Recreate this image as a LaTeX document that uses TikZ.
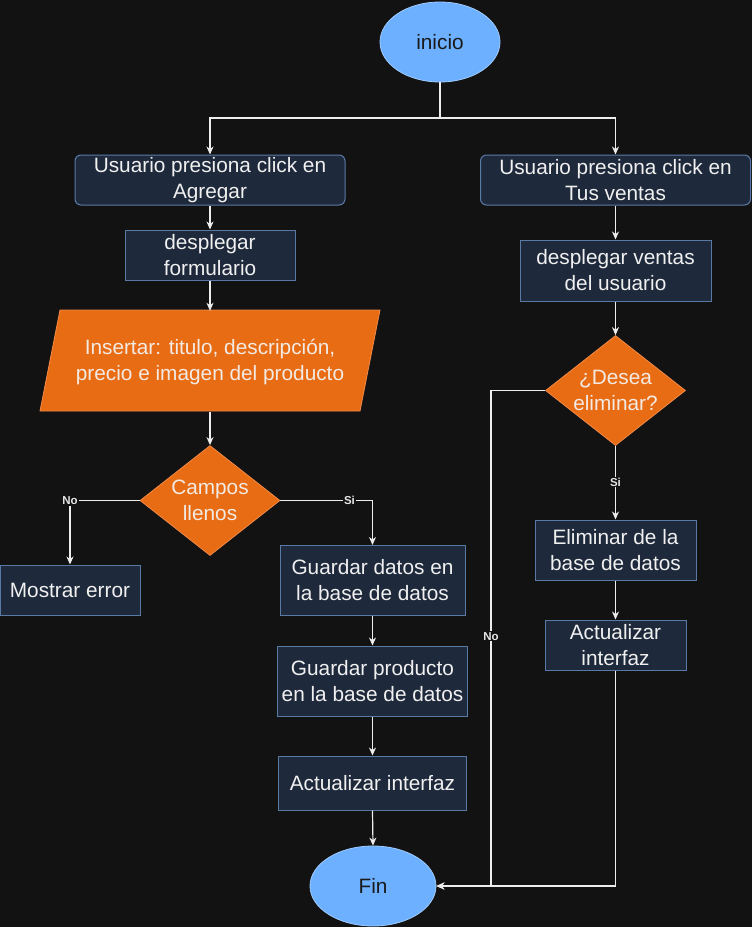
\documentclass[tikz,border=0pt]{standalone}
\usepackage{fontspec}
\setmainfont{Liberation Sans}
\usetikzlibrary{shapes.geometric,arrows.meta,calc}
\definecolor{bgc}{HTML}{121212}
\definecolor{boxfill}{HTML}{1E293B}
\definecolor{boxline}{HTML}{5A7AA6}
\definecolor{orfill}{HTML}{E86C14}
\definecolor{orline}{HTML}{F28A48}
\definecolor{ortxt}{HTML}{F3EAE3}
\definecolor{blfill}{HTML}{6CB0FF}
\definecolor{blline}{HTML}{9ECBFF}
\definecolor{bltxt}{HTML}{1A1A1A}
\definecolor{txt}{HTML}{F0F0F0}
\definecolor{linec}{HTML}{EDEDED}
\definecolor{lblc}{HTML}{E6E6E6}
\begin{document}
\begin{tikzpicture}[x=1pt,y=-1pt,
  every node/.style={font=\fontsize{20.8}{26}\selectfont, text=txt, align=center, inner sep=0pt},
  box/.style={rectangle, draw=boxline, fill=boxfill, line width=1pt},
  rbox/.style={box, rounded corners=6pt},
  dec/.style={diamond, draw=orline, fill=orfill, text=ortxt, line width=0.8pt, aspect=1.27, minimum width=140pt, minimum height=110pt},
  term/.style={ellipse, draw=blline, fill=blfill, text=bltxt, line width=0.8pt},
  arr/.style={draw=linec, line width=1.2pt, -{Stealth[length=8pt,width=7pt,inset=2.5pt]}},
  lbl/.style={font=\bfseries\fontsize{11.5}{13}\selectfont, fill=bgc, text=lblc, inner sep=1pt}]
\fill[bgc] (0,0) rectangle (752,927);
\useasboundingbox (0,0) rectangle (752,927);

% nodes
\node[term, minimum width=120pt, minimum height=80pt] (ini) at (440,42) {inicio};
\node[rbox, minimum width=270pt, minimum height=50pt] (b1) at (210,180) {Usuario presiona click en\\Agregar};
\node[rbox, minimum width=270pt, minimum height=50pt] (b2) at (615.5,180) {Usuario presiona click en\\Tus ventas};
\node[box, minimum width=170pt, minimum height=50pt] (df) at (210,255) {desplegar\\formulario};

% parallelogram
\filldraw[fill=orfill, draw=orline, line width=0.8pt] (60,310) -- (380,310) -- (360,411) -- (40,411) -- cycle;
\node[minimum width=320pt, minimum height=101pt, text=ortxt] (para) at (210,361.5) {Insertar: titulo, descripción,\\precio e imagen del producto};

\node[dec] (d1) at (210,500.5) {Campos\\llenos};
\node[box, minimum width=140pt, minimum height=50pt] (me) at (70,590) {Mostrar error};
\node[box, minimum width=185pt, minimum height=70pt] (gd) at (372.5,580.5) {Guardar datos en\\la base de datos};
\node[box, minimum width=190pt, minimum height=70pt] (gp) at (372.5,681) {Guardar producto\\en la base de datos};
\node[box, minimum width=188pt, minimum height=54pt] (ai) at (372.5,783) {Actualizar interfaz};
\node[term, minimum width=126pt, minimum height=80pt] (fin) at (373,886) {Fin};

\node[box, minimum width=191pt, minimum height=61pt] (dv) at (615.5,270.5) {desplegar ventas\\del usuario};
\node[dec] (d2) at (615.5,390.5) {¿Desea\\eliminar?};
\node[box, minimum width=161pt, minimum height=60pt] (el) at (615.5,550) {Eliminar de la\\base de datos};
\node[box, minimum width=141pt, minimum height=50pt] (ar) at (615.5,645) {Actualizar\\interfaz};

% connectors
\coordinate (j1) at (440,118);
\draw[arr] (ini.south) -- (j1) -| (b1.north);
\draw[arr] (j1) -| (b2.north);
\draw[arr] (b1.south) -- (df.north);
\draw[arr] (df.south) -- (para.north);
\draw[arr] (para.south) -- (d1.north);
\draw[arr] (d1.west) -| node[lbl, pos=0.5] {No} (me.north);
\draw[arr] (d1.east) -| node[lbl, pos=0.375] {Si} (gd.north);
\draw[arr] (gd.south) -- (gp.north);
\draw[arr] (gp.south) -- (ai.north);
\draw[arr] (ai.south) -- (fin.north);

\draw[arr] (b2.south) -- (dv.north);
\draw[arr] (dv.south) -- (d2.north);
\draw[arr] (d2.south) -- node[lbl, pos=0.49] {Si} (el.north);
\draw[arr] (el.south) -- (ar.north);
\draw[arr] (ar.south) |- (fin.east);
\coordinate (nc) at (491,390.5);
\draw[arr] (d2.west) -- (nc) |- node[lbl, pos=0.248] {No} (fin.east);
\end{tikzpicture}
\end{document}
